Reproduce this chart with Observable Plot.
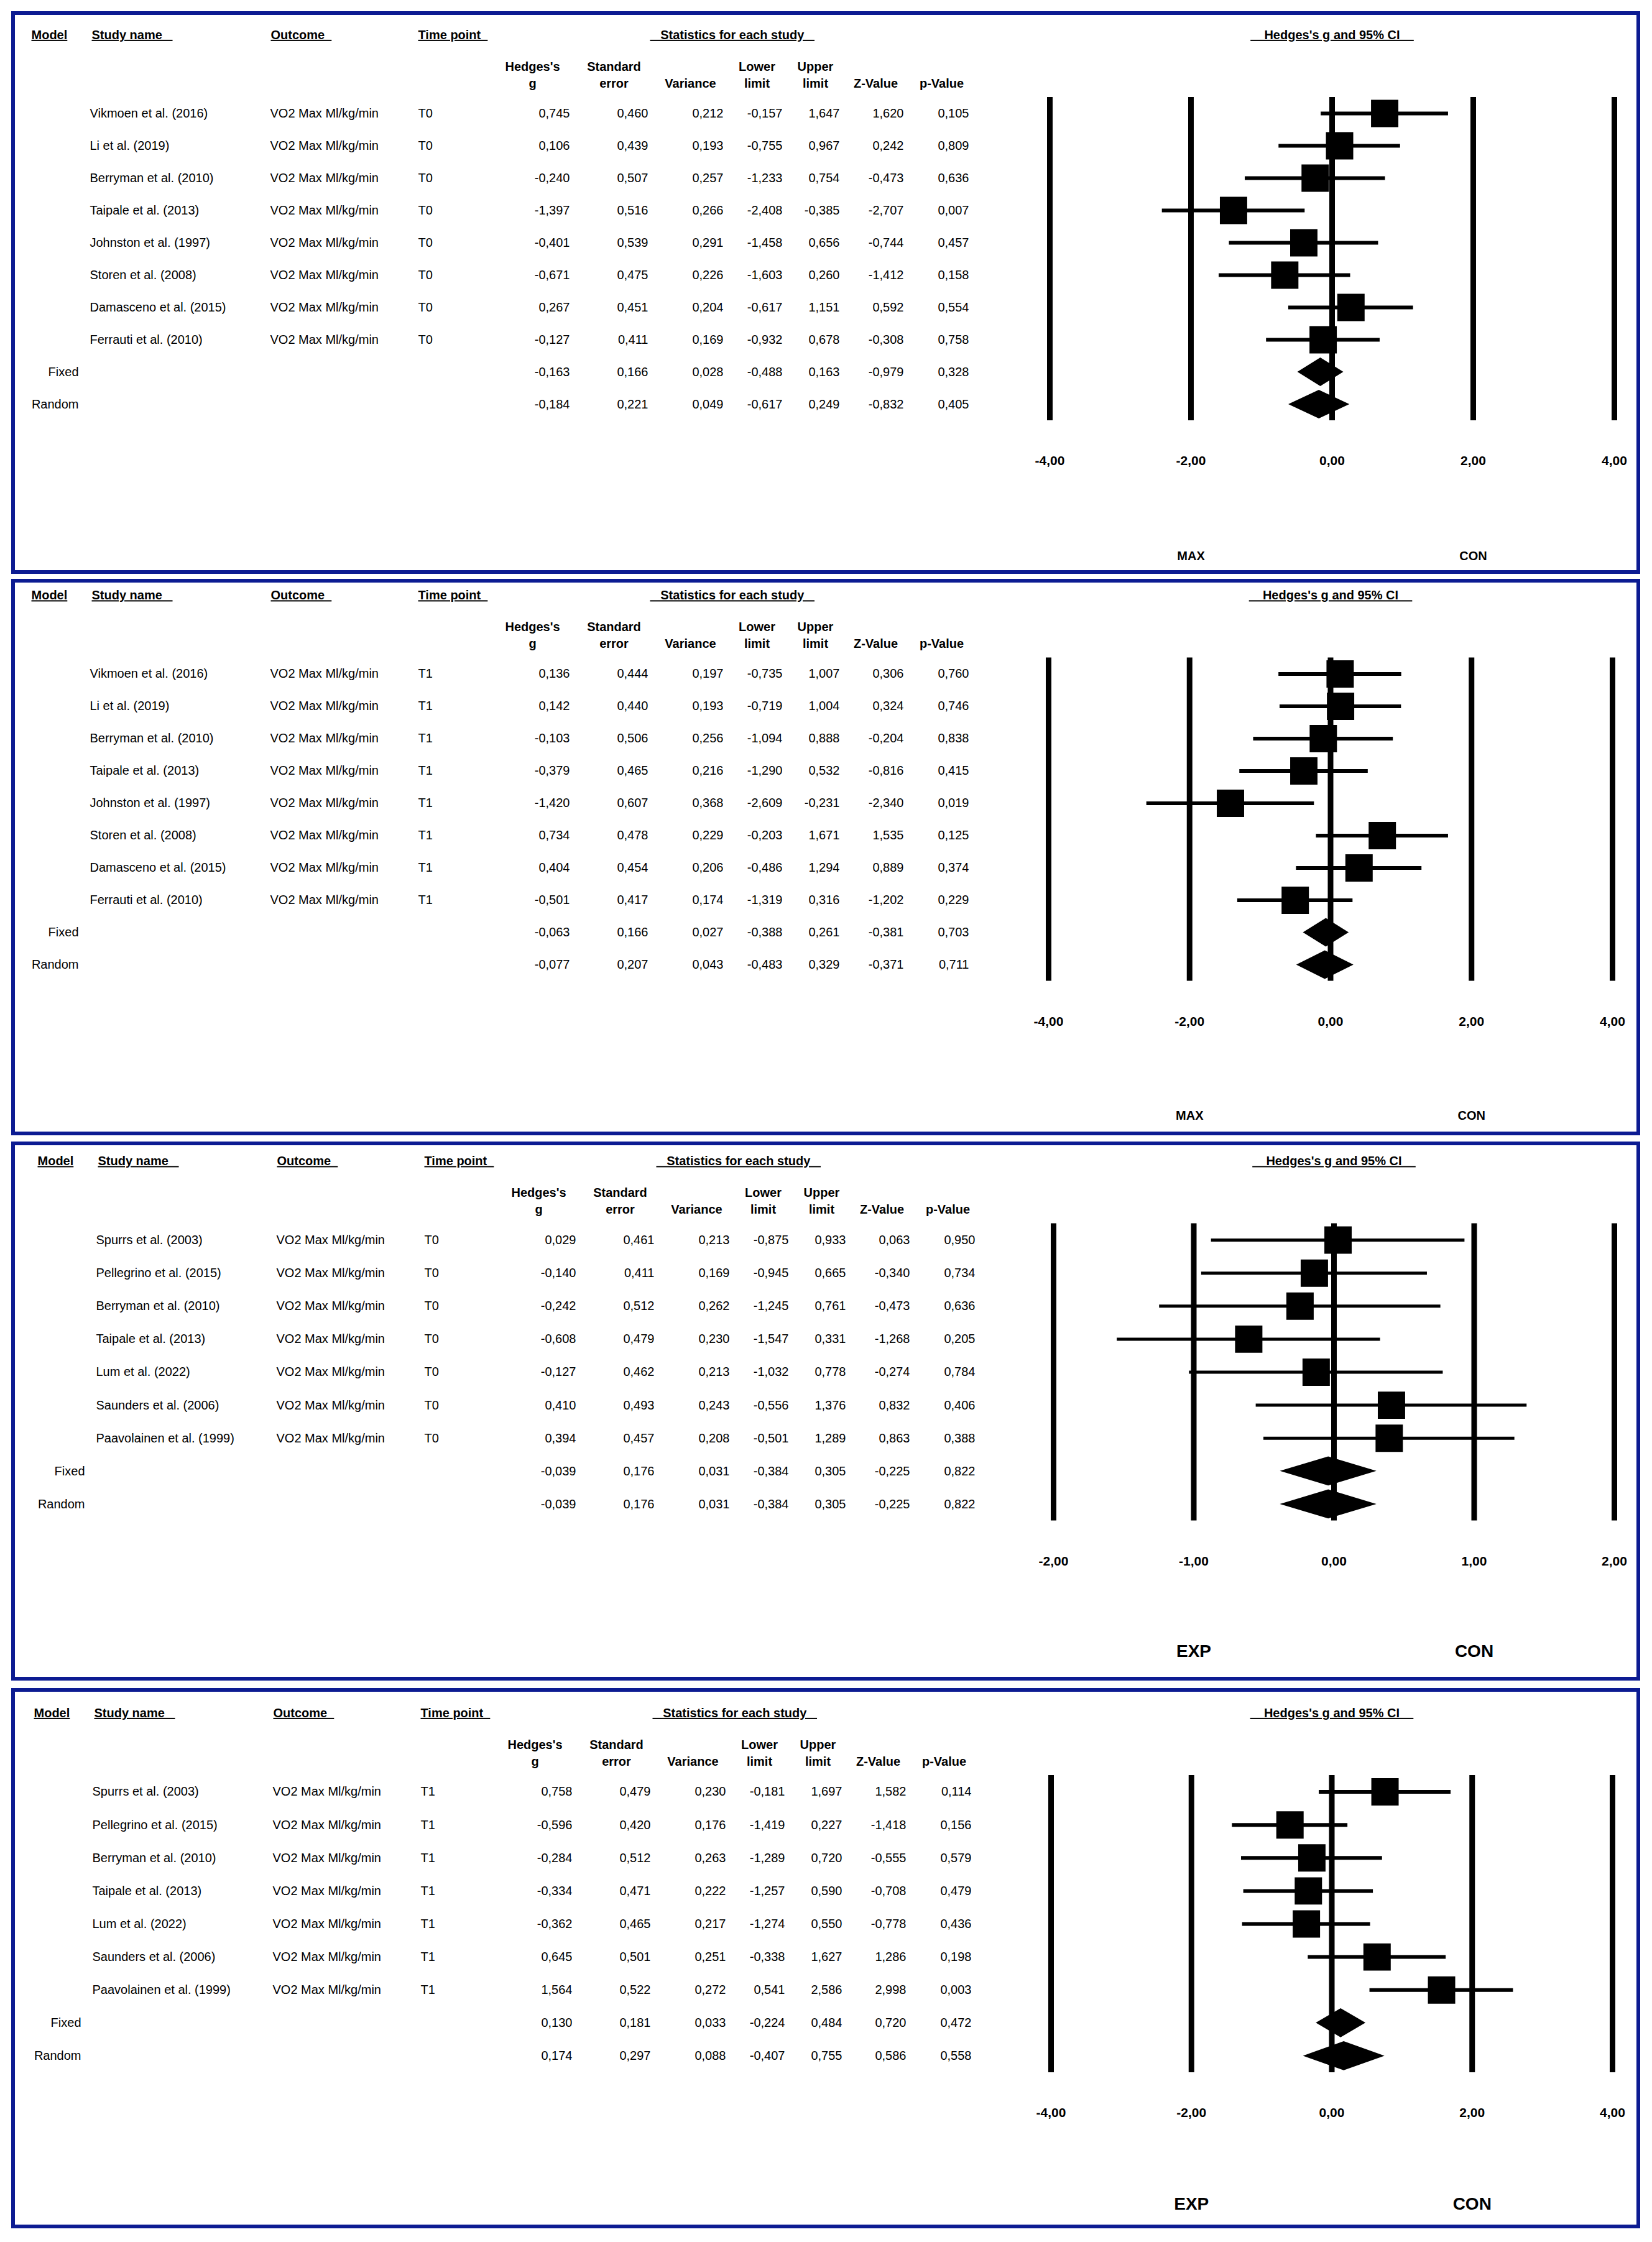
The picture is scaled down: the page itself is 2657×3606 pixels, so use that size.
<!DOCTYPE html>
<html>
<head>
<meta charset="utf-8">
<script src="https://cdn.jsdelivr.net/npm/d3@7"></script>
<script src="https://cdn.jsdelivr.net/npm/@observablehq/plot@0.6"></script>
<style>
  html, body { margin: 0; padding: 0; background: #fff; }
  #page { position: relative; width: 2657px; height: 3606px; background: #fff; overflow: hidden; }
  .box { position: absolute; border: 6px solid #0c1b92; box-sizing: border-box; }
  .panel { position: absolute; left: 0; }
</style>
</head>
<body>
<div id="page"></div>
<script>
// ---------------- DATA ----------------
const studiesA = ["Vikmoen et al. (2016)", "Li et al. (2019)", "Berryman et al. (2010)", "Taipale et al. (2013)",
  "Johnston et al. (1997)", "Storen et al. (2008)", "Damasceno et al. (2015)", "Ferrauti et al. (2010)"];
const studiesB = ["Spurrs et al. (2003)", "Pellegrino et al. (2015)", "Berryman et al. (2010)", "Taipale et al. (2013)",
  "Lum et al. (2022)", "Saunders et al. (2006)", "Paavolainen et al. (1999)"];
const models = ["Fixed", "Random"];
const outcomeLabel = "VO2 Max Ml/kg/min";
const timePoints = ["T0", "T1", "T0", "T1"];

// Panel 1 (MAX vs CON, T0): studies then Fixed, Random
const p1Hedges = [0.745, 0.106, -0.240, -1.397, -0.401, -0.671, 0.267, -0.127, -0.163, -0.184];
const p1SE     = [0.460, 0.439, 0.507, 0.516, 0.539, 0.475, 0.451, 0.411, 0.166, 0.221];
const p1Var    = [0.212, 0.193, 0.257, 0.266, 0.291, 0.226, 0.204, 0.169, 0.028, 0.049];
const p1Lower  = [-0.157, -0.755, -1.233, -2.408, -1.458, -1.603, -0.617, -0.932, -0.488, -0.617];
const p1Upper  = [1.647, 0.967, 0.754, -0.385, 0.656, 0.260, 1.151, 0.678, 0.163, 0.249];
const p1Z      = [1.620, 0.242, -0.473, -2.707, -0.744, -1.412, 0.592, -0.308, -0.979, -0.832];
const p1P      = [0.105, 0.809, 0.636, 0.007, 0.457, 0.158, 0.554, 0.758, 0.328, 0.405];

// Panel 2 (MAX vs CON, T1)
const p2Hedges = [0.136, 0.142, -0.103, -0.379, -1.420, 0.734, 0.404, -0.501, -0.063, -0.077];
const p2SE     = [0.444, 0.440, 0.506, 0.465, 0.607, 0.478, 0.454, 0.417, 0.166, 0.207];
const p2Var    = [0.197, 0.193, 0.256, 0.216, 0.368, 0.229, 0.206, 0.174, 0.027, 0.043];
const p2Lower  = [-0.735, -0.719, -1.094, -1.290, -2.609, -0.203, -0.486, -1.319, -0.388, -0.483];
const p2Upper  = [1.007, 1.004, 0.888, 0.532, -0.231, 1.671, 1.294, 0.316, 0.261, 0.329];
const p2Z      = [0.306, 0.324, -0.204, -0.816, -2.340, 1.535, 0.889, -1.202, -0.381, -0.371];
const p2P      = [0.760, 0.746, 0.838, 0.415, 0.019, 0.125, 0.374, 0.229, 0.703, 0.711];

// Panel 3 (EXP vs CON, T0)
const p3Hedges = [0.029, -0.140, -0.242, -0.608, -0.127, 0.410, 0.394, -0.039, -0.039];
const p3SE     = [0.461, 0.411, 0.512, 0.479, 0.462, 0.493, 0.457, 0.176, 0.176];
const p3Var    = [0.213, 0.169, 0.262, 0.230, 0.213, 0.243, 0.208, 0.031, 0.031];
const p3Lower  = [-0.875, -0.945, -1.245, -1.547, -1.032, -0.556, -0.501, -0.384, -0.384];
const p3Upper  = [0.933, 0.665, 0.761, 0.331, 0.778, 1.376, 1.289, 0.305, 0.305];
const p3Z      = [0.063, -0.340, -0.473, -1.268, -0.274, 0.832, 0.863, -0.225, -0.225];
const p3P      = [0.950, 0.734, 0.636, 0.205, 0.784, 0.406, 0.388, 0.822, 0.822];

// Panel 4 (EXP vs CON, T1)
const p4Hedges = [0.758, -0.596, -0.284, -0.334, -0.362, 0.645, 1.564, 0.130, 0.174];
const p4SE     = [0.479, 0.420, 0.512, 0.471, 0.465, 0.501, 0.522, 0.181, 0.297];
const p4Var    = [0.230, 0.176, 0.263, 0.222, 0.217, 0.251, 0.272, 0.033, 0.088];
const p4Lower  = [-0.181, -1.419, -1.289, -1.257, -1.274, -0.338, 0.541, -0.224, -0.407];
const p4Upper  = [1.697, 0.227, 0.720, 0.590, 0.550, 1.627, 2.586, 0.484, 0.755];
const p4Z      = [1.582, -1.418, -0.555, -0.708, -0.778, 1.286, 2.998, 0.720, 0.586];
const p4P      = [0.114, 0.156, 0.579, 0.479, 0.436, 0.198, 0.003, 0.472, 0.558];

// Axis ticks and side labels
const ticksWide = [-4, -2, 0, 2, 4];
const ticksNarrow = [-2, -1, 0, 1, 2];
const sideLabelsA = ["MAX", "CON"];
const sideLabelsB = ["EXP", "CON"];
const sidePosWide = [-2, 2];
const sidePosNarrow = [-1, 1];

// Header texts
const headModel = "Model";
const headStudy = "Study name\u00A0\u00A0\u00A0";
const headOutcome = "Outcome\u00A0\u00A0";
const headTime = "Time point\u00A0\u00A0";
const headStats = "\u00A0\u00A0\u00A0Statistics for each study\u00A0\u00A0\u00A0";
const headPlot = "\u00A0\u00A0\u00A0\u00A0Hedges's g and 95% CI\u00A0\u00A0\u00A0\u00A0";
const statHeads = ["Hedges's\ng", "Standard\nerror", "Variance", "Lower\nlimit", "Upper\nlimit", "Z-Value", "p-Value"];

// ---------------- FORMAT ----------------
const loc = d3.formatLocale({decimal: ",", thousands: ".", grouping: [3], currency: ["", ""], minus: "-"});
const fmt3 = loc.format(".3f");
const fmt2 = loc.format(".2f");

// ---------------- LAYOUT ----------------
const W = 2657;
const FONT = "'Liberation Sans', Arial, Helvetica, sans-serif";
const layouts = [
  {borderTop: 21, borderBottom: 919.5, frameTop: 156, frameBottom: 676, xLeft: 1688, xRight: 2596, shift: 0, ci: 6, sideSize: 20, sideDy: 218},
  {borderTop: 933.5, borderBottom: 1822, frameTop: 1057, frameBottom: 1577, xLeft: 1686, xRight: 2593, shift: 0, ci: 6, sideSize: 20, sideDy: 217},
  {borderTop: 1839, borderBottom: 2699.5, frameTop: 1967.5, frameBottom: 2445.5, xLeft: 1694, xRight: 2596, shift: 10, ci: 5, sideSize: 28, sideDy: 210},
  {borderTop: 2717.5, borderBottom: 3580, frameTop: 2854.5, frameBottom: 3332.5, xLeft: 1690, xRight: 2593, shift: 4, ci: 6, sideSize: 28, sideDy: 212}
];
const cols = {
  modelRight: 126, studyLeft: 144, outcomeLeft: 434, timeLeft: 672,
  stat: [916, 1042, 1163, 1258, 1350, 1453, 1558],
  statHead: [856, 987, 1110, 1217, 1311, 1408, 1514],
  headModel: 50, headStudy: 147, headOutcome: 435, headTime: 672, headStats: 1045
};

const panels = [
  {studies: studiesA, g: p1Hedges, se: p1SE, v: p1Var, lo: p1Lower, hi: p1Upper, z: p1Z, p: p1P, ticks: ticksWide, side: sideLabelsA, sidePos: sidePosWide, time: timePoints[0]},
  {studies: studiesA, g: p2Hedges, se: p2SE, v: p2Var, lo: p2Lower, hi: p2Upper, z: p2Z, p: p2P, ticks: ticksWide, side: sideLabelsA, sidePos: sidePosWide, time: timePoints[1]},
  {studies: studiesB, g: p3Hedges, se: p3SE, v: p3Var, lo: p3Lower, hi: p3Upper, z: p3Z, p: p3P, ticks: ticksNarrow, side: sideLabelsB, sidePos: sidePosNarrow, time: timePoints[2]},
  {studies: studiesB, g: p4Hedges, se: p4SE, v: p4Var, lo: p4Lower, hi: p4Upper, z: p4Z, p: p4P, ticks: ticksWide, side: sideLabelsB, sidePos: sidePosWide, time: timePoints[3]}
];

const underlined = new Set([headModel, headStudy, headOutcome, headTime, headStats, headPlot]);
const page = document.getElementById("page");

panels.forEach((P, k) => {
  const L = layouts[k];
  const n = P.studies.length;
  const rows = P.g.map((g, i) => ({
    i, g, se: P.se[i], v: P.v[i], lo: P.lo[i], hi: P.hi[i], z: P.z[i], p: P.p[i],
    study: i < n ? P.studies[i] : "", model: i < n ? "" : models[i - n],
    outcome: i < n ? outcomeLabel : "", time: i < n ? P.time : ""
  }));
  const studyRows = rows.filter(d => d.i < n);
  const summaryRows = rows.filter(d => d.i >= n);
  const half = 0.44;
  const diamonds = summaryRows.flatMap(d => [
    {k: d.model, y: d.i - half, x1: d.g, x2: d.g},
    {k: d.model, y: d.i, x1: d.lo, x2: d.hi},
    {k: d.model, y: d.i + half, x1: d.g, x2: d.g}
  ]);

  const svgTop = L.borderTop - 3;
  const height = Math.round(L.borderBottom + 3 - svgTop);
  const mt = L.frameTop - svgTop;
  const mb = svgTop + height - L.frameBottom;
  const ml = L.xLeft, mr = W - L.xRight;
  const X = px => px + L.shift - ml;

  const statKeys = ["g", "se", "v", "lo", "hi", "z", "p"];
  const marks = [
    Plot.ruleX(P.ticks, {stroke: "black", strokeWidth: 9}),
    Plot.ruleY(studyRows, {y: "i", x1: "lo", x2: "hi", stroke: "black", strokeWidth: L.ci}),
    Plot.dot(studyRows, {x: "g", y: "i", symbol: "square", r: 24.8, fill: "black", stroke: null}),
    Plot.areaX(diamonds, {y: "y", x1: "x1", x2: "x2", z: "k", fill: "black"}),
    // tick labels
    Plot.text(P.ticks, {x: d => d, text: d => fmt2(d), frameAnchor: "bottom", dy: 65, lineAnchor: "middle", fontWeight: "bold", fontSize: 21}),
    // side labels
    Plot.text(P.side, {x: (d, i) => P.sidePos[i], text: d => d, frameAnchor: "bottom", dy: L.sideDy, lineAnchor: "middle", fontWeight: "bold", fontSize: L.sideSize}),
    // plot title
    Plot.text([headPlot], {text: d => d, frameAnchor: "top", dy: -100, lineAnchor: "middle", fontWeight: "bold"}),
    // table headers
    Plot.text([headModel], {text: d => d, frameAnchor: "top-left", dx: X(cols.headModel), dy: -100, textAnchor: "start", lineAnchor: "middle", fontWeight: "bold"}),
    Plot.text([headStudy], {text: d => d, frameAnchor: "top-left", dx: X(cols.headStudy), dy: -100, textAnchor: "start", lineAnchor: "middle", fontWeight: "bold"}),
    Plot.text([headOutcome], {text: d => d, frameAnchor: "top-left", dx: X(cols.headOutcome), dy: -100, textAnchor: "start", lineAnchor: "middle", fontWeight: "bold"}),
    Plot.text([headTime], {text: d => d, frameAnchor: "top-left", dx: X(cols.headTime), dy: -100, textAnchor: "start", lineAnchor: "middle", fontWeight: "bold"}),
    Plot.text([headStats], {text: d => d, frameAnchor: "top-left", dx: X(cols.headStats), dy: -100, textAnchor: "start", lineAnchor: "middle", fontWeight: "bold"}),
    ...statHeads.map((h, j) => Plot.text([h], {text: d => d, frameAnchor: "top-left", dx: X(cols.statHead[j]), dy: -16, textAnchor: "middle", lineAnchor: "bottom", lineHeight: 1.35, fontWeight: "bold"})),
    // table body
    Plot.text(rows, {y: "i", text: "model", frameAnchor: "left", dx: X(cols.modelRight), textAnchor: "end"}),
    Plot.text(rows, {y: "i", text: "study", frameAnchor: "left", dx: X(cols.studyLeft), textAnchor: "start"}),
    Plot.text(rows, {y: "i", text: "outcome", frameAnchor: "left", dx: X(cols.outcomeLeft), textAnchor: "start"}),
    Plot.text(rows, {y: "i", text: "time", frameAnchor: "left", dx: X(cols.timeLeft), textAnchor: "start"}),
    ...statKeys.map((key, j) => Plot.text(rows, {y: "i", text: d => fmt3(d[key]), frameAnchor: "left", dx: X(cols.stat[j]), textAnchor: "end"}))
  ];

  const svg = Plot.plot({
    width: W,
    height,
    marginTop: mt,
    marginBottom: mb,
    marginLeft: ml,
    marginRight: mr,
    x: {domain: [P.ticks[0], P.ticks[P.ticks.length - 1]], axis: null},
    y: {domain: [-0.5, rows.length - 0.5], reverse: true, axis: null},
    style: {fontFamily: FONT, fontSize: "20px", color: "black", background: "transparent", maxWidth: "none"},
    marks
  });
  svg.querySelectorAll("text").forEach(t => {
    if (underlined.has(t.textContent)) {
      t.style.textDecoration = "underline";
      t.style.textDecorationThickness = "3px";
      t.style.textUnderlineOffset = "4px";
    }
  });
  svg.classList.add("panel");
  svg.style.top = svgTop + "px";
  svg.style.position = "absolute";
  svg.style.left = "0px";

  const box = document.createElement("div");
  box.className = "box";
  box.style.left = "18px";
  box.style.width = "2620px";
  box.style.top = svgTop + "px";
  box.style.height = height + "px";
  page.appendChild(box);
  page.appendChild(svg);
});
</script>
</body>
</html>
